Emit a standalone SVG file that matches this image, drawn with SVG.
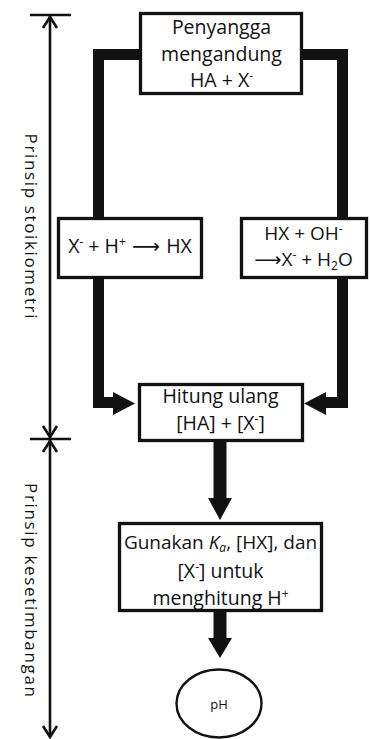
<svg xmlns="http://www.w3.org/2000/svg" width="370" height="739" viewBox="0 0 370 739">
<style>
text { font-family: "Open Sans", "DejaVu Sans", sans-serif; fill: #111; }
.t { font-size: 19.5px; text-anchor: middle; }
.lab { font-size: 17px; text-anchor: middle; }
.box { fill: #fff; stroke: #111; stroke-width: 3.3; }
.conn { fill: none; stroke: #111; stroke-width: 11; stroke-linejoin: miter; }
.head { fill: #111; stroke: none; }
.axis { fill: none; stroke: #111; stroke-width: 2.6; }
.sup { font-size: 12px; }
.arr { font-family: "DejaVu Sans", sans-serif; }
</style>

<g id="axis">
  <line class="axis" x1="30" y1="15" x2="71" y2="15"/>
  <line class="axis" x1="30" y1="439" x2="71" y2="439"/>
  <line class="axis" x1="50" y1="16" x2="50" y2="438"/>
  <line class="axis" x1="50" y1="440" x2="50" y2="737"/>
  <polyline class="axis" points="43,28 50,17 57,28"/>
  <polyline class="axis" points="43,426 50,437 57,426"/>
  <polyline class="axis" points="43,452 50,441 57,452"/>
  <polyline class="axis" points="43,726 50,737 57,726"/>
  <text class="lab" transform="translate(25,226) rotate(90)" textLength="185" lengthAdjust="spacing">Prinsip stoikiometri</text>
  <text class="lab" transform="translate(25,590) rotate(90)" textLength="214" lengthAdjust="spacing">Prinsip kesetimbangan</text>
</g>

<g id="connectors">
  <path class="conn" d="M142,54.5 H98.5 V218"/>
  <path class="conn" d="M301,54.5 H342.5 V218"/>
  <path class="conn" d="M98.5,278 V402.5 H115"/>
  <polygon class="head" points="113,392 135,403.5 113,415"/>
  <path class="conn" d="M342.5,278 V402.5 H324"/>
  <polygon class="head" points="326,392 304,403.5 326,415"/>
  <line class="conn" style="stroke-width:13" x1="220" y1="441" x2="220" y2="500"/>
  <polygon class="head" points="208,498 232,498 220,520"/>
  <line class="conn" style="stroke-width:13" x1="220" y1="612" x2="220" y2="640"/>
  <polygon class="head" points="208,638 232,638 220,658"/>
</g>

<g id="buffer">
  <rect class="box" x="140.5" y="13.5" width="161" height="80"/>
  <text class="t" x="221.5" y="34">Penyangga</text>
  <text class="t" x="221.5" y="60.5">mengandung</text>
  <text class="t" x="221.5" y="86.5">HA + X<tspan class="sup" dy="-7">-</tspan></text>
</g>

<g id="acid-add">
  <rect class="box" x="58.5" y="218.5" width="143" height="59"/>
  <text class="t" x="130" y="253">X<tspan class="sup" dy="-7">-</tspan><tspan dy="7"> + H</tspan><tspan class="sup" dy="-7">+</tspan><tspan dy="7" class="arr"> ⟶ </tspan>HX</text>
</g>

<g id="base-add">
  <rect class="box" x="241.5" y="218.5" width="125" height="59"/>
  <text class="t" style="font-size:19px" x="303.5" y="240">HX + OH<tspan class="sup" dy="-7">-</tspan></text>
  <text class="t" style="font-size:19px" x="303.5" y="266"><tspan class="arr">⟶</tspan>X<tspan class="sup" dy="-7">-</tspan><tspan dy="7"> + H</tspan><tspan class="sup" dy="4">2</tspan><tspan dy="-4">O</tspan></text>
</g>

<g id="recalc">
  <rect class="box" x="139.5" y="384.5" width="163" height="56"/>
  <text class="t" x="220.5" y="403">Hitung ulang</text>
  <text class="t" x="220.5" y="430">[HA] + [X<tspan class="sup" dy="-7">-</tspan><tspan dy="7">]</tspan></text>
</g>

<g id="equilibrium">
  <rect class="box" x="119.5" y="523.5" width="202" height="87"/>
  <text class="t" style="font-size:19px" x="220.5" y="549">Gunakan <tspan font-style="italic">K</tspan><tspan class="sup" font-style="italic" dy="3">a</tspan><tspan dy="-3">, [HX], dan</tspan></text>
  <text class="t" x="220.5" y="578">[X<tspan class="sup" dy="-7">-</tspan><tspan dy="7">] untuk</tspan></text>
  <text class="t" x="220.5" y="605">menghitung H<tspan class="sup" dy="-7">+</tspan></text>
</g>

<g id="ph">
  <ellipse cx="219" cy="703.5" rx="42.5" ry="34" fill="#fff" stroke="#111" stroke-width="2.4"/>
  <text x="219" y="709" style="font-size:13px;text-anchor:middle">pH</text>
</g>
</svg>
